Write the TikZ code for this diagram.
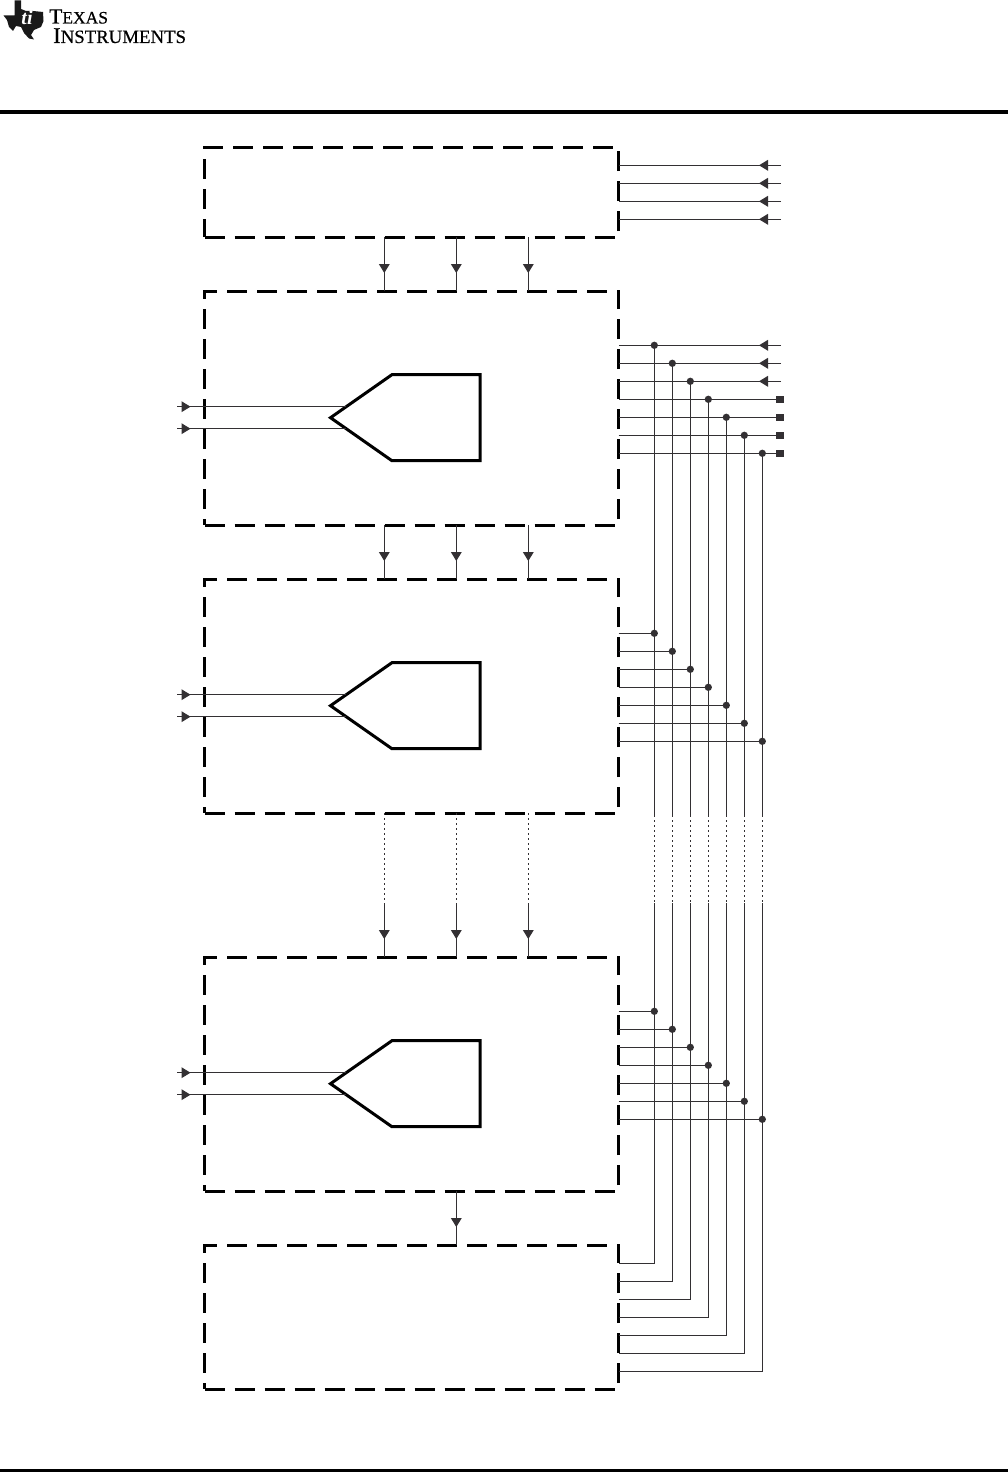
\documentclass[tikz,border=0pt]{standalone}
\usepackage{fontspec}
\setmainfont{Liberation Serif}
\newfontfamily\logofont[FakeBold=0.5]{Liberation Serif}
\usepackage{xcolor}
\usetikzlibrary{positioning,arrows.meta,calc,shapes.symbols,decorations.markings}
\definecolor{WireGray}{HTML}{333033}
\newcommand{\logoword}[2]{{\logofont\fontsize{21.5}{22}\selectfont #1}{\logofont\fontsize{17.5}{22}\selectfont #2}}
\newcommand{\logowide}[2]{{\logofont\fontsize{22.5}{22}\selectfont #1}{\logofont\fontsize{18.8}{22}\selectfont #2}}

\tikzset{
  blockbox/.style={minimum width=414pt, inner sep=0pt, outer sep=0pt},
  blockedge/.style={line width=3pt, black, dash pattern=on 20pt off 10pt},
  adcshape/.style={shape=signal, signal to=west, signal from=nowhere, signal pointer angle=70,
    draw=black, line width=3pt, minimum width=149.5pt, minimum height=86pt,
    inner sep=0pt, outer sep=0pt, anchor=west},
  wire/.style={draw=WireGray, line width=1pt},
  dottedwire/.style={wire, dash pattern=on 2pt off 3pt},
  arrowat/.style={postaction={decorate, decoration={markings,
    mark=at position #1 with {\arrow[WireGray]{Triangle[length=9pt,width=10.7pt]}}}}},
  joint/.style={circle, fill=WireGray, minimum size=7.3pt, inner sep=0pt, outer sep=0pt},
  padsquare/.style={rectangle, fill=WireGray, minimum size=7.5pt, inner sep=0pt, outer sep=0pt},
  rulebar/.style={line width=3.5pt, black}
}

\begin{document}
\begin{tikzpicture}[x=1pt, y=-1pt]
  \useasboundingbox (0,0) rectangle (1008,1472);

  % page furniture
  \draw[rulebar] (0,112) -- (1008,112);
  \fill[black] (0,1469) rectangle (1008,1472);
  \fill[black!90] (3.5,15.5) -- (14.5,15.5) -- (14.5,0.5) -- (21,0.5) -- (21,9) -- (26,11) -- (33,11)
    -- (43,12) -- (43.5,21) -- (41,27) -- (34,30) -- (31,35) -- (34,39.5) -- (29,38.5) -- (24,33)
    -- (21,27) -- (16,26) -- (13,31) -- (9,27) -- (7,20) -- cycle;
  \node[white, font=\fontsize{20}{20}\selectfont\bfseries\itshape, inner sep=0pt] (logoMark) at (27,18) {ti};
  \node[anchor=base west, inner sep=0pt] (logoTexas) at (49,23.5) {\logoword{T}{EXAS}};
  \node[anchor=base west, inner sep=0pt] (logoInstr) at (53,43) {\logowide{I}{NSTRUMENTS}};

  % blocks
  \node[blockbox, minimum height=90pt] (ctl) at (411.5,192) {};
  \node[blockbox, minimum height=234pt, below=54pt of ctl] (adcA) {};
  \node[blockbox, minimum height=234pt, below=54pt of adcA] (adcB) {};
  \node[blockbox, minimum height=234pt, below=144pt of adcB] (adcN) {};
  \node[blockbox, minimum height=144pt, below=54pt of adcN] (ram) {};
  \foreach \b in {ctl,adcA,adcB,adcN,ram}
    \draw[blockedge] (\b.south west) -- (\b.south east) -- (\b.north east) -- (\b.north west) -- cycle;

  % converters and their inputs
  \foreach \b/\p in {adcA/pgaA,adcB/pgaB,adcN/pgaN} {
    \node[adcshape] (\p) at ($(\b.west)+(126,9.7)$) {};
    \foreach \dy in {-11,11}
      \draw[wire, arrowat=13.5pt] ($(\p.west)+(-153.5,\dy)$) -- ($(\p.west)+(15.7,\dy)$);
  }

  % links between blocks
  \foreach \u/\l in {ctl/adcA,adcA/adcB}
    \foreach \dx in {-27.2,44.8,116.8}
      \draw[wire, arrowat=36pt] ($(\u.south)+(\dx,0)$) -- ($(\l.north)+(\dx,0)$);
  \foreach \dx in {-27.2,44.8,116.8} {
    \draw[dottedwire] ($(adcB.south)+(\dx,0)$) -- ($(adcN.north)+(\dx,-54)$);
    \draw[wire, arrowat=36pt] ($(adcN.north)+(\dx,-54)$) -- ($(adcN.north)+(\dx,0)$);
  }
  \draw[wire, arrowat=36pt] ($(adcN.south)+(44.8,0)$) -- ($(ram.north)+(44.8,0)$);

  % control inputs
  \coordinate (inEnd) at (781,0);
  \foreach \i in {0,...,3}
    \draw[wire, arrowat=22pt] ($(ctl.north east)+(162.5,18.3+18*\i)$) -- ($(ctl.north east)+(0,18.3+18*\i)$);

  % output bus
  \coordinate (gapTop) at ($(adcB.south)+(0,2)$);
  \coordinate (gapBot) at ($(adcN.north)+(0,-54)$);
  \foreach \i in {1,...,7} {
    \coordinate (a\i) at ($(adcA.north east)+(17.8+18*\i,36.3+18*\i)$);
    \coordinate (b\i) at ($(adcB.north east)+(17.8+18*\i,36.3+18*\i)$);
    \coordinate (n\i) at ($(adcN.north east)+(17.8+18*\i,36.3+18*\i)$);
    \coordinate (e\i) at ($(ram.north east)+(17.8+18*\i,0.3+18*\i)$);
    \draw[wire] (a\i) -- (a\i |- gapTop);
    \draw[dottedwire] (a\i |- gapTop) -- (a\i |- gapBot);
    \draw[wire] (a\i |- gapBot) -- (e\i) -- (ram.east |- e\i);
    \draw[wire] (adcB.east |- b\i) -- (b\i);
    \draw[wire] (adcN.east |- n\i) -- (n\i);
    \node[joint] (dotB\i) at (b\i) {};
    \node[joint] (dotN\i) at (n\i) {};
  }
  \foreach \i in {1,2,3}
    \draw[wire, arrowat=22pt] (inEnd |- a\i) -- (adcA.east |- a\i);
  \foreach \i in {4,...,7} {
    \node[padsquare] (pad\i) at ($(inEnd |- a\i)+(-1,0)$) {};
    \draw[wire] (adcA.east |- a\i) -- (pad\i);
  }
  \foreach \i in {1,...,7}
    \node[joint] (dotA\i) at (a\i) {};
\end{tikzpicture}
\end{document}
